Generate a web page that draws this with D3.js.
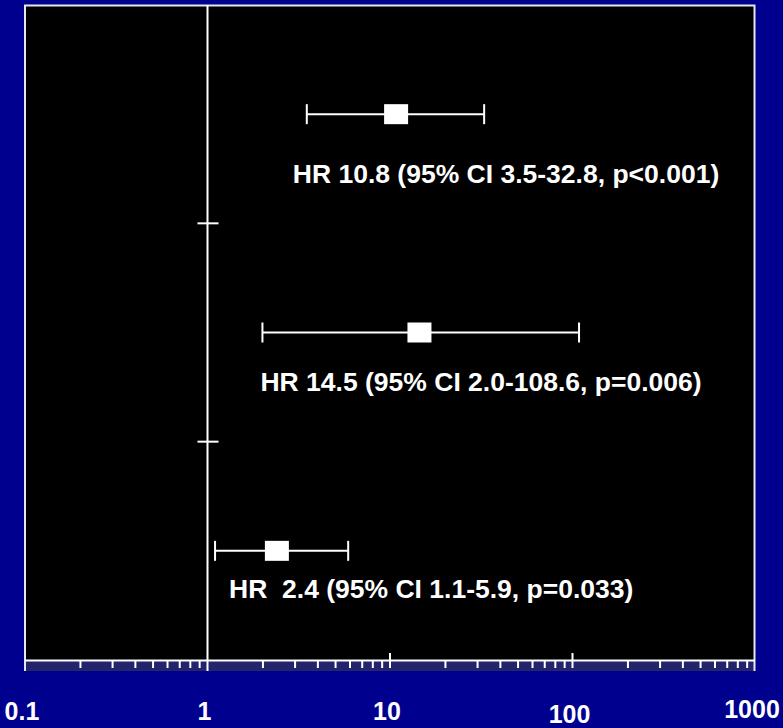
<html>
<head>
<script src="https://d3js.org/d3.v7.min.js"></script>
<style>
    body {margin: 0; background: #00008e;}
    text {font-family: "Liberation Sans", Arial, sans-serif; font-weight: bold; fill: white;}
</style>
</head>
<body>
<svg width=783 height=728></svg>

<script>
// hazard ratios, one row per model (top to bottom)
const hr     = [10.8, 14.5, 2.4];
const ciLow  = [3.5, 2.0, 1.1];
const ciHigh = [32.8, 108.6, 5.9];
const hrLabels = [
    "HR 10.8 (95% CI 3.5-32.8, p<0.001)",
    "HR 14.5 (95% CI 2.0-108.6, p=0.006)",
    "HR  2.4 (95% CI 1.1-5.9, p=0.033)"
];
const tickValues = [0.1, 1, 10, 100, 1000];
const tickLabels = ["0.1", "1", "10", "100", "1000"];

const svg = d3.select('svg');

const xs = d3.scaleLog().domain([0.1, 1000]).range([25, 755]);
const ys = d3.scaleBand().domain(d3.range(hr.length)).range([5, 660]);
const yc = i => ys(i) + ys.bandwidth() / 2;

// plot panel
svg.append('rect')
    .attr('x', 25).attr('y', 5).attr('width', 730).attr('height', 655)
    .attr('fill', 'black');
svg.append('rect')
    .attr('x', 25).attr('y', 660).attr('width', 730).attr('height', 11)
    .attr('fill', '#24246c');
svg.append('path')
    .attr('d', 'M25,671 V5.5 H754.5 V671')
    .attr('fill', 'none').attr('stroke', '#e6e6ee').attr('stroke-width', 2);

// minor ticks under the axis line
const minor = [];
[0.1, 1, 10, 100].forEach(function(d) {
    for (let k = 2; k <= 9; k++) minor.push(d * k);
});
svg.append('g')
    .attr('transform', 'translate(0,660)')
    .call(d3.axisBottom(xs).tickValues(minor).tickSize(8).tickFormat(''))
    .call(g => g.select('.domain').remove())
    .selectAll('line').attr('stroke', 'white').attr('stroke-width', 2);

// major ticks at 10 and 100
svg.append('g')
    .selectAll('line')
    .data([10, 100])
    .enter()
    .append('line')
    .attr('x1', d => xs(d)).attr('x2', d => xs(d))
    .attr('y1', 653).attr('y2', 668)
    .attr('stroke', 'white').attr('stroke-width', 2);

// axis line
svg.append('line')
    .attr('x1', 25).attr('x2', 755).attr('y1', 660.5).attr('y2', 660.5)
    .attr('stroke', 'white').attr('stroke-width', 2);

// line of no effect
svg.append('line')
    .attr('x1', xs(1)).attr('x2', xs(1)).attr('y1', 5).attr('y2', 671)
    .attr('stroke', 'white').attr('stroke-width', 2);

// row separators on the reference line
svg.append('g')
    .selectAll('line')
    .data(d3.range(1, hr.length))
    .enter()
    .append('line')
    .attr('x1', xs(1) - 10).attr('x2', xs(1) + 11)
    .attr('y1', d => ys(d)).attr('y2', d => ys(d))
    .attr('stroke', 'white').attr('stroke-width', 2);

// confidence intervals
const rowsG = svg.append('g')
    .selectAll('g')
    .data(hr)
    .enter()
    .append('g');

rowsG.append('line')
    .attr('x1', (d, i) => xs(ciLow[i])).attr('x2', (d, i) => xs(ciHigh[i]))
    .attr('y1', (d, i) => yc(i)).attr('y2', (d, i) => yc(i))
    .attr('stroke', 'white').attr('stroke-width', 2);

rowsG.selectAll('line.cap')
    .data((d, i) => [ciLow[i], ciHigh[i]].map(v => ({v: v, i: i})))
    .enter()
    .append('line')
    .attr('class', 'cap')
    .attr('x1', d => xs(d.v)).attr('x2', d => xs(d.v))
    .attr('y1', d => yc(d.i) - 10).attr('y2', d => yc(d.i) + 10)
    .attr('stroke', 'white').attr('stroke-width', 2);

rowsG.append('rect')
    .attr('x', d => xs(d) - 12)
    .attr('y', (d, i) => yc(i) - 10)
    .attr('width', 24).attr('height', 20)
    .attr('fill', 'white');

// text under each interval (offset from the lower CI end)
const labelOffset = [[-14, 69], [-2, 58], [14, 47]];
rowsG.append('text')
    .attr('x', (d, i) => xs(ciLow[i]) + labelOffset[i][0])
    .attr('y', (d, i) => yc(i) + labelOffset[i][1])
    .attr('font-size', 26.5)
    .style('white-space', 'pre')
    .text((d, i) => hrLabels[i]);

// tick labels
const labelDy = [0, 0, 0, 3, -2];
svg.append('g')
    .selectAll('text')
    .data(tickValues)
    .enter()
    .append('text')
    .attr('x', d => xs(d) - 3)
    .attr('y', (d, i) => 720 + labelDy[i])
    .attr('font-size', 25)
    .style('text-anchor', 'middle')
    .text((d, i) => tickLabels[i]);
</script>
</body>
</html>
